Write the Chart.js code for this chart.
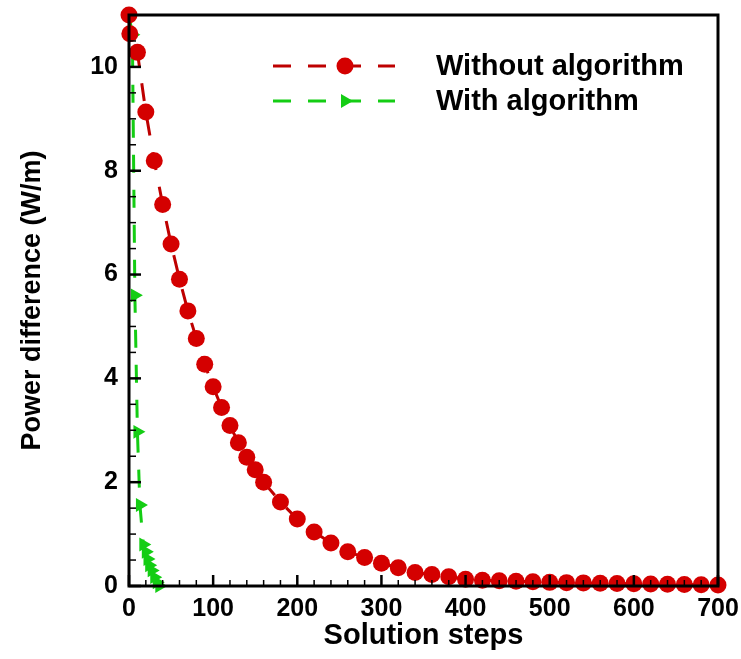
<!DOCTYPE html>
<html>
<head>
<meta charset="utf-8">
<script src="https://cdn.jsdelivr.net/npm/chart.js@4.4.0/dist/chart.umd.min.js"></script>
<style>
  body { margin: 0; background: #fff; }
</style>
</head>
<body>
<canvas id="chart" width="741" height="659"></canvas>
<script>
// data
const stepsWithout = [0, 1, 10, 20, 30, 40, 50, 60, 70, 80, 90, 100, 110, 120, 130, 140, 150, 160,
  180, 200, 220, 240, 260, 280, 300, 320, 340, 360, 380, 400, 420, 440, 460, 480, 500,
  520, 540, 560, 580, 600, 620, 640, 660, 680, 700];
const powerWithout = [11.0, 10.64, 10.28, 9.13, 8.19, 7.35, 6.59, 5.91, 5.3, 4.77, 4.27, 3.84, 3.44, 3.09, 2.76, 2.48, 2.24, 2.0,
  1.62, 1.29, 1.04, 0.83, 0.66, 0.55, 0.44, 0.35, 0.26, 0.22, 0.18, 0.13, 0.11, 0.1, 0.09, 0.08, 0.07,
  0.065, 0.06, 0.055, 0.05, 0.045, 0.04, 0.035, 0.03, 0.025, 0.02];
const stepsWith = [0, 4, 7, 10, 13, 17, 20, 22, 24, 27, 30, 33, 36];
const powerWith = [11.0, 10.62, 5.6, 2.97, 1.56, 0.8, 0.66, 0.52, 0.4, 0.3, 0.17, 0.07, 0.0];
const xTicks = [0, 100, 200, 300, 400, 500, 600, 700];
const yTicks = [0, 2, 4, 6, 8, 10];
const seriesNames = ["Without algorithm", "With algorithm"];

const RED = "rgb(212,0,0)";
const RED_LINE = "rgb(190,0,0)";
const GREEN = "rgb(20,205,20)";
const FONT = "'Liberation Sans', Arial, sans-serif";

const toPoints = (xs, ys) => xs.map((x, i) => ({ x, y: ys[i] }));

// box frame + inward ticks, like the original plot
const frameTicks = {
  id: "frameTicks",
  afterDatasetsDraw(chart) {
    const { ctx, chartArea: a, scales: { x, y } } = chart;
    ctx.save();
    ctx.strokeStyle = "#000";
    for (let v = 0; v <= 700; v += 20) {
      const px = x.getPixelForValue(v);
      const major = v % 100 === 0;
      ctx.lineWidth = major ? 2.5 : 1.5;
      ctx.beginPath();
      ctx.moveTo(px, a.bottom);
      ctx.lineTo(px, a.bottom - (major ? 11 : 6));
      ctx.stroke();
    }
    for (let v = 0; v <= 11; v += 0.5) {
      const py = y.getPixelForValue(v);
      const major = v % 2 === 0;
      ctx.lineWidth = major ? 2.5 : 1.5;
      ctx.beginPath();
      ctx.moveTo(a.left, py);
      ctx.lineTo(a.left + (major ? 12 : 7), py);
      ctx.stroke();
    }
    ctx.lineWidth = 3;
    ctx.strokeRect(a.left, a.top, a.right - a.left, a.bottom - a.top);
    ctx.restore();
  }
};

// legend with dashed line + marker in the middle
const lineLegend = {
  id: "lineLegend",
  afterDraw(chart) {
    const { ctx, chartArea: a } = chart;
    const x0 = a.left + 144, x1 = a.left + 266, xm = a.left + 216, xt = a.left + 307;
    ctx.save();
    chart.data.datasets.forEach((ds, i) => {
      const yy = a.top + 51 + i * 35;
      ctx.strokeStyle = ds.borderColor;
      ctx.lineWidth = 3;
      ctx.setLineDash([18, 17]);
      ctx.beginPath();
      ctx.moveTo(x0, yy);
      ctx.lineTo(x1, yy);
      ctx.stroke();
      ctx.setLineDash([]);
      ctx.fillStyle = ds.pointBackgroundColor;
      ctx.strokeStyle = ds.pointBackgroundColor;
      Chart.helpers.drawPoint(ctx, {
        pointStyle: ds.pointStyle,
        rotation: ds.pointRotation || 0,
        radius: ds.pointRadius,
        borderWidth: 0
      }, xm, yy);
      ctx.fillStyle = "#000";
      ctx.font = "bold 29px " + FONT;
      ctx.textBaseline = "middle";
      ctx.fillText(ds.label, xt, yy + 1);
    });
    ctx.restore();
  }
};

new Chart(document.getElementById("chart"), {
  type: "line",
  data: {
    datasets: [
      {
        label: seriesNames[0],
        data: toPoints(stepsWithout, powerWithout),
        borderColor: RED_LINE,
        borderWidth: 3,
        borderDash: [18, 17],
        pointStyle: "circle",
        pointRadius: 8.5,
        pointBackgroundColor: RED,
        pointBorderWidth: 0,
        clip: false
      },
      {
        label: seriesNames[1],
        data: toPoints(stepsWith, powerWith),
        borderColor: GREEN,
        borderWidth: 3,
        borderDash: [18, 17],
        pointStyle: "triangle",
        pointRotation: 90,
        pointRadius: 8,
        pointBackgroundColor: GREEN,
        pointBorderWidth: 0,
        clip: false
      }
    ]
  },
  options: {
    responsive: false,
    animation: false,
    layout: { padding: { top: 15, right: 23 } },
    plugins: { legend: { display: false }, tooltip: { enabled: false } },
    scales: {
      x: {
        type: "linear",
        min: 0,
        max: 700,
        afterBuildTicks: s => { s.ticks = xTicks.map(v => ({ value: v })); },
        afterFit: s => { s.height = 73; s.paddingLeft = 0; s.paddingRight = 0; },
        grid: { display: false, drawTicks: false },
        border: { display: false },
        ticks: { color: "#000", padding: 8, maxRotation: 0, font: { family: FONT, size: 25, weight: "bold" } },
        title: {
          display: true,
          text: "Solution steps",
          color: "#000",
          padding: { bottom: 6 },
          font: { family: FONT, size: 29, weight: "bold" }
        }
      },
      y: {
        min: 0,
        max: 11,
        afterBuildTicks: s => { s.ticks = yTicks.map(v => ({ value: v })); },
        afterFit: s => { s.width = 129; s.paddingTop = 0; s.paddingBottom = 0; },
        grid: { display: false, drawTicks: false },
        border: { display: false },
        ticks: { color: "#000", padding: 11, font: { family: FONT, size: 25, weight: "bold" } },
        title: {
          display: true,
          text: "Power difference (W/m)",
          color: "#000",
          padding: { top: 16 },
          font: { family: FONT, size: 27, weight: "bold" }
        }
      }
    }
  },
  plugins: [frameTicks, lineLegend]
});
</script>
</body>
</html>
